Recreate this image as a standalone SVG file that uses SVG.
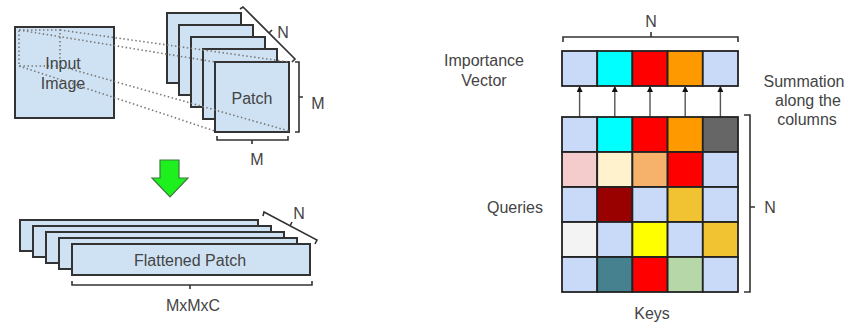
<svg xmlns="http://www.w3.org/2000/svg" width="848" height="326" viewBox="0 0 848 326">
<style>
.box{fill:#cfe2f3;stroke:#333;stroke-width:2}
.dot{fill:none;stroke:#7a7a7a;stroke-width:1.6;stroke-dasharray:1.5 2.5}
.br{fill:none;stroke:#333;stroke-width:1.6}
.t{font-family:"Liberation Sans",Arial,sans-serif;font-size:16px;fill:#444;text-anchor:middle}
.cell{stroke:#222;stroke-width:1.8}
.arr{stroke:#555;stroke-width:1.4;marker-end:url(#ah)}
</style>
<defs>
<marker id="ah" markerWidth="6" markerHeight="6" refX="5" refY="3" orient="auto" markerUnits="userSpaceOnUse">
<path d="M0,0 L6,3 L0,6 Z" fill="#111"/>
</marker>
</defs>
<rect width="848" height="326" fill="#fff"/>

<g id="input-image">
<rect class="box" x="15" y="27" width="99" height="91" stroke-width="2.6"/>
<rect class="dot" x="19" y="30" width="41" height="36"/>
<text class="t" x="63" y="69">Input</text>
<text class="t" x="63" y="89">Image</text>
</g>

<g id="patches">
<rect class="box" x="167" y="13" width="74" height="70"/>
<rect class="box" x="179" y="25" width="74" height="70"/>
<rect class="box" x="191" y="37" width="74" height="70"/>
<rect class="box" x="203" y="49" width="74" height="70"/>
<rect class="box" x="215" y="62" width="74" height="70"/>
<text class="t" x="252" y="104">Patch</text>
</g>

<g id="connectors">
<line class="dot" x1="19" y1="30" x2="215" y2="62"/>
<line class="dot" x1="60" y1="30" x2="289" y2="62"/>
<line class="dot" x1="19" y1="66" x2="215" y2="131"/>
<line class="dot" x1="60" y1="66" x2="289" y2="131"/>
<path d="M160,160 H179 V178 H188 L170,197 L152,178 H160 Z" fill="#1ef01e" stroke="#3d7a3d" stroke-width="1.2"/>
<line class="arr" x1="579.6" y1="117" x2="579.6" y2="87"/>
<line class="arr" x1="614.8" y1="117" x2="614.8" y2="87"/>
<line class="arr" x1="650" y1="117" x2="650" y2="87"/>
<line class="arr" x1="685.2" y1="117" x2="685.2" y2="87"/>
<line class="arr" x1="720.4" y1="117" x2="720.4" y2="87"/>
</g>

<g id="patch-braces">
<path class="br" d="M240,9 L243,7 L295,59 L292,62 M269,33 L272,30"/>
<text class="t" x="283" y="38">N</text>
<path class="br" d="M295,62 H299 V132 H295 M299,97 H303"/>
<text class="t" x="318" y="109">M</text>
<path class="br" d="M217,136 V140 H288 V136 M252,140 V144"/>
<text class="t" x="257" y="165">M</text>
</g>

<g id="flattened">
<rect class="box" x="20" y="220" width="238" height="31"/>
<rect class="box" x="33" y="226" width="238" height="31"/>
<rect class="box" x="46" y="232" width="238" height="31"/>
<rect class="box" x="59" y="238" width="238" height="31"/>
<rect class="box" x="72" y="244" width="238" height="31"/>
<text class="t" x="190" y="266">Flattened Patch</text>
<path class="br" d="M263,216 L264,212 L317,240 L315,244 M290,226 L292,222"/>
<text class="t" x="299" y="219">N</text>
<path class="br" d="M72,281 V285 H312 V281 M190,285 V289"/>
<text class="t" x="193" y="311">MxMxC</text>
</g>

<g id="importance-vector">
<rect class="cell" x="562" y="51" width="35.2" height="35" fill="#c9daf8"/>
<rect class="cell" x="597.2" y="51" width="35.2" height="35" fill="#00ffff"/>
<rect class="cell" x="632.4" y="51" width="35.2" height="35" fill="#ff0000"/>
<rect class="cell" x="667.6" y="51" width="35.2" height="35" fill="#ff9900"/>
<rect class="cell" x="702.8" y="51" width="35.2" height="35" fill="#c9daf8"/>
<path class="br" d="M563,42 V37 H738 V42 M651,37 V32"/>
<text class="t" x="651" y="27">N</text>
<text class="t" x="484" y="66">Importance</text>
<text class="t" x="484" y="86">Vector</text>
</g>

<g id="matrix">
<rect class="cell" x="562" y="117" width="35.2" height="35" fill="#c9daf8"/>
<rect class="cell" x="597.2" y="117" width="35.2" height="35" fill="#00ffff"/>
<rect class="cell" x="632.4" y="117" width="35.2" height="35" fill="#ff0000"/>
<rect class="cell" x="667.6" y="117" width="35.2" height="35" fill="#ff9900"/>
<rect class="cell" x="702.8" y="117" width="35.2" height="35" fill="#666666"/>
<rect class="cell" x="562" y="152" width="35.2" height="35" fill="#f4cccc"/>
<rect class="cell" x="597.2" y="152" width="35.2" height="35" fill="#fff2cc"/>
<rect class="cell" x="632.4" y="152" width="35.2" height="35" fill="#f6b26b"/>
<rect class="cell" x="667.6" y="152" width="35.2" height="35" fill="#ff0000"/>
<rect class="cell" x="702.8" y="152" width="35.2" height="35" fill="#c9daf8"/>
<rect class="cell" x="562" y="187" width="35.2" height="35" fill="#c9daf8"/>
<rect class="cell" x="597.2" y="187" width="35.2" height="35" fill="#990000"/>
<rect class="cell" x="632.4" y="187" width="35.2" height="35" fill="#c9daf8"/>
<rect class="cell" x="667.6" y="187" width="35.2" height="35" fill="#f1c232"/>
<rect class="cell" x="702.8" y="187" width="35.2" height="35" fill="#c9daf8"/>
<rect class="cell" x="562" y="222" width="35.2" height="35" fill="#f3f3f3"/>
<rect class="cell" x="597.2" y="222" width="35.2" height="35" fill="#c9daf8"/>
<rect class="cell" x="632.4" y="222" width="35.2" height="35" fill="#ffff00"/>
<rect class="cell" x="667.6" y="222" width="35.2" height="35" fill="#c9daf8"/>
<rect class="cell" x="702.8" y="222" width="35.2" height="35" fill="#f1c232"/>
<rect class="cell" x="562" y="257" width="35.2" height="35" fill="#c9daf8"/>
<rect class="cell" x="597.2" y="257" width="35.2" height="35" fill="#45818e"/>
<rect class="cell" x="632.4" y="257" width="35.2" height="35" fill="#ff0000"/>
<rect class="cell" x="667.6" y="257" width="35.2" height="35" fill="#b6d7a8"/>
<rect class="cell" x="702.8" y="257" width="35.2" height="35" fill="#c9daf8"/>
<path class="br" d="M744,115 H750 V292 H744 M750,207 H755"/>
<text class="t" x="770" y="213">N</text>
<text class="t" x="515" y="213">Queries</text>
<text class="t" x="652" y="319">Keys</text>
<text class="t" x="804" y="87">Summation</text>
<text class="t" x="808" y="106">along the</text>
<text class="t" x="807" y="125">columns</text>
</g>
</svg>
